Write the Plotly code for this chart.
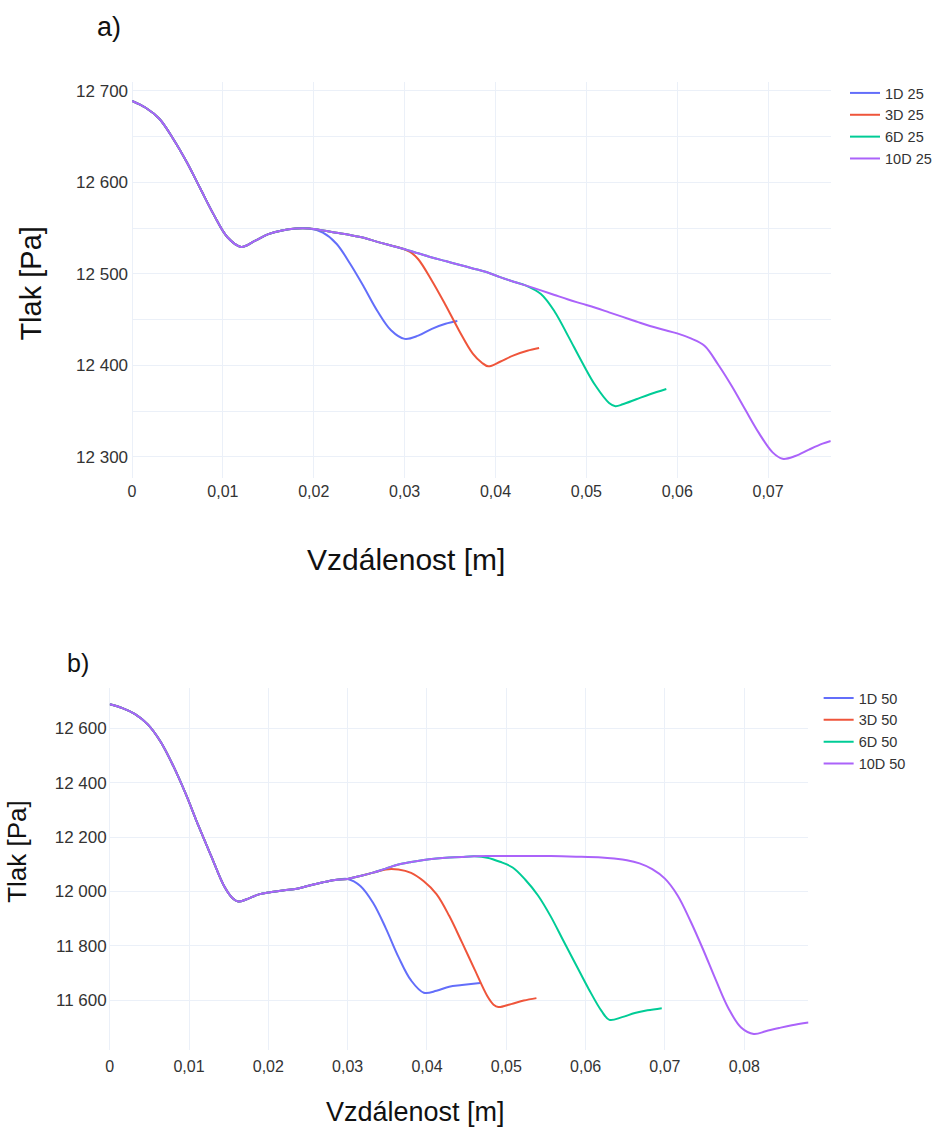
import plotly.graph_objects as go

W, H = 937, 1130

# ---------------- panel a) : 25 series ----------------
# inlet part shared by all four profiles
a_start_x = [0.0, 0.0015, 0.0030, 0.0045, 0.0060, 0.0075, 0.0090, 0.0105, 0.0120,
             0.0135, 0.0150, 0.0165, 0.0180, 0.0195]
a_start_p = [12689, 12681.5, 12669.5, 12648, 12622.5, 12593.5, 12564.5, 12540, 12529.5,
             12536, 12543.5, 12547.5, 12549.5, 12549.5]

a_1d_x = [0.0210, 0.0225, 0.0240, 0.0255, 0.0270, 0.0285, 0.0300, 0.0315, 0.0330,
          0.0345, 0.0358]
a_1d_p = [12545, 12533, 12511, 12486, 12459.5, 12438.5, 12429, 12432.5, 12440,
          12445.5, 12448.5]

# main line that the longer profiles keep following
a_mid_x = [0.0210, 0.0225, 0.0240, 0.0255, 0.0270, 0.0285, 0.0298]
a_mid_p = [12547.5, 12545, 12542.5, 12539.5, 12535, 12531, 12527.5]

a_3d_x = [0.0306, 0.0315, 0.0330, 0.0345, 0.0360, 0.0375, 0.0385, 0.0392, 0.0405,
          0.0420, 0.0435, 0.0448]
a_3d_p = [12524, 12516, 12492.5, 12466, 12438, 12413, 12403, 12399, 12404,
          12411, 12416, 12419]

a_long_x = [0.0315, 0.0330, 0.0345, 0.0360, 0.0375, 0.0390, 0.0405, 0.0420, 0.0433]
a_long_p = [12522.5, 12518, 12514, 12510, 12506, 12502, 12496.5, 12491.5, 12487.5]

a_6d_x = [0.0450, 0.0465, 0.0480, 0.0495, 0.0510, 0.0525, 0.0532, 0.0540, 0.0555,
          0.0570, 0.0588]
a_6d_p = [12478, 12459, 12432, 12404, 12378, 12359, 12355.5, 12357.5, 12363,
          12368.5, 12374.3]

a_10d_x = [0.0450, 0.0465, 0.0480, 0.0495, 0.0510, 0.0525, 0.0540, 0.0555, 0.0570,
           0.0585, 0.0600, 0.0615, 0.0630, 0.0645, 0.0660, 0.0675, 0.0690, 0.0705,
           0.0716, 0.0730, 0.0745, 0.0760, 0.0769]
a_10d_p = [12482, 12477, 12472, 12467.5, 12463, 12458, 12453, 12448, 12443,
           12439, 12435, 12429.5, 12421.5, 12401, 12377.5, 12351.5, 12326, 12305,
           12298, 12301, 12308, 12314.5, 12317.5]

# ---------------- panel b) : 50 series ----------------
b_start_x = [0.0, 0.0016, 0.0032, 0.0048, 0.0064, 0.0080, 0.0096, 0.0112, 0.0128,
             0.0144, 0.0155, 0.0162, 0.0172, 0.0188, 0.0204, 0.0220, 0.0236, 0.0252,
             0.0268, 0.0284, 0.0300]
b_start_p = [12689, 12675, 12653, 12615, 12552, 12463, 12358, 12241, 12130,
             12021, 11975, 11963, 11970, 11989, 11997.5, 12004, 12010, 12022,
             12033, 12042, 12046]

b_1d_x = [0.0316, 0.0332, 0.0348, 0.0364, 0.0380, 0.0396, 0.0412, 0.0428, 0.0444,
          0.0467]
b_1d_p = [12020, 11958, 11865, 11759, 11672, 11627, 11634, 11649, 11655,
          11663]

b_mid_x = [0.0316, 0.0332]
b_mid_p = [12057, 12069]

b_3d_x = [0.0348, 0.0364, 0.0380, 0.0396, 0.0412, 0.0428, 0.0444, 0.0460, 0.0476,
          0.0484, 0.0490, 0.0506, 0.0522, 0.0538]
b_3d_p = [12081, 12080.5, 12068, 12037, 11990, 11910, 11813, 11713, 11615,
          11583, 11574, 11585, 11598, 11607]

b_long_x = [0.0348, 0.0364, 0.0380, 0.0396, 0.0412, 0.0428, 0.0444, 0.0460]
b_long_p = [12084, 12099, 12108.5, 12116, 12121, 12124.5, 12127, 12129]

b_6d_x = [0.0476, 0.0492, 0.0508, 0.0524, 0.0540, 0.0556, 0.0572, 0.0588, 0.0604,
          0.0620, 0.0630, 0.0646, 0.0662, 0.0678, 0.0696]
b_6d_p = [12124, 12109, 12088, 12043, 11985, 11908, 11818, 11729, 11640,
          11560, 11527, 11537, 11552, 11562, 11570]

b_10d_x = [0.0476, 0.0492, 0.0524, 0.0556, 0.0588, 0.0620, 0.0636, 0.0652, 0.0668,
           0.0684, 0.0700, 0.0716, 0.0732, 0.0748, 0.0764, 0.0780, 0.0796, 0.0812,
           0.0828, 0.0844, 0.0860, 0.0881]
b_10d_p = [12130, 12130.5, 12130, 12130, 12128, 12125, 12121, 12115, 12103,
           12082, 12047, 11985, 11892, 11787, 11675, 11570, 11499, 11475,
           11486, 11497, 11507, 11517]

labels_a = ["1D 25", "3D 25", "6D 25", "10D 25"]
labels_b = ["1D 50", "3D 50", "6D 50", "10D 50"]
colors = ["#636efa", "#EF553B", "#00cc96", "#ab63fa"]

series_a = [
    (a_start_x + a_1d_x, a_start_p + a_1d_p),
    (a_start_x + a_mid_x + a_3d_x, a_start_p + a_mid_p + a_3d_p),
    (a_start_x + a_mid_x + a_long_x + a_6d_x, a_start_p + a_mid_p + a_long_p + a_6d_p),
    (a_start_x + a_mid_x + a_long_x + a_10d_x, a_start_p + a_mid_p + a_long_p + a_10d_p),
]
series_b = [
    (b_start_x + b_1d_x, b_start_p + b_1d_p),
    (b_start_x + b_mid_x + b_3d_x, b_start_p + b_mid_p + b_3d_p),
    (b_start_x + b_mid_x + b_long_x + b_6d_x, b_start_p + b_mid_p + b_long_p + b_6d_p),
    (b_start_x + b_mid_x + b_long_x + b_10d_x, b_start_p + b_mid_p + b_long_p + b_10d_p),
]

fig = go.Figure()
for (xs, ps), name, col in zip(series_a, labels_a, colors):
    fig.add_trace(go.Scatter(x=xs, y=ps, name=name, mode="lines",
                             line=dict(color=col, width=2, shape="spline", smoothing=1),
                             xaxis="x", yaxis="y", legend="legend"))
for (xs, ps), name, col in zip(series_b, labels_b, colors):
    fig.add_trace(go.Scatter(x=xs, y=ps, name=name, mode="lines",
                             line=dict(color=col, width=2, shape="spline", smoothing=1),
                             xaxis="x2", yaxis="y2", legend="legend2"))


def px_x(v):
    return v / W


def px_y(v):
    return 1 - v / H


GRID = "#EBF0F8"
FONT = "Liberation Sans, Arial, sans-serif"
TICKFONT_Y = dict(family=FONT, size=17, color="#333333")
TICKFONT_X = dict(family=FONT, size=16, color="#333333")

axis_common = dict(showline=False, ticks="", zeroline=True, zerolinecolor=GRID,
                   zerolinewidth=1, gridcolor=GRID, gridwidth=1)

fig.update_layout(
    width=W, height=H, autosize=False,
    template="plotly_white",
    paper_bgcolor="white", plot_bgcolor="white",
    margin=dict(l=0, r=0, t=0, b=0),
    separators=", ",
    showlegend=True,
    xaxis=dict(domain=[px_x(130), px_x(839.3)], range=[0, 0.0769], dtick=0.01, tick0=0,
               anchor="y", tickfont=TICKFONT_X, ticklabelstandoff=2, **axis_common),
    yaxis=dict(domain=[px_y(478), px_y(81.7)], range=[12277, 12710], dtick=100, tick0=0,
               anchor="x", tickfont=TICKFONT_Y, tickformat=",d", ticklabelstandoff=3,
               minor=dict(dtick=50, tick0=0, showgrid=True, gridcolor=GRID, gridwidth=1),
               **axis_common),
    xaxis2=dict(domain=[px_x(107.3), px_x(816.7)], range=[0, 0.0881], dtick=0.01, tick0=0,
                anchor="y2", tickfont=TICKFONT_X, ticklabelstandoff=5, **axis_common),
    yaxis2=dict(domain=[px_y(1050), px_y(687.7)], range=[11416, 12750], dtick=200, tick0=0,
                anchor="x2", tickfont=TICKFONT_Y, tickformat=",d", ticklabelstandoff=2,
                **axis_common),
    legend=dict(x=px_x(854), y=px_y(77), xanchor="left", yanchor="top",
                bgcolor="rgba(0,0,0,0)", font=dict(family=FONT, size=14.5, color="#333333")),
    legend2=dict(x=px_x(827), y=px_y(682), xanchor="left", yanchor="top",
                 bgcolor="rgba(0,0,0,0)", font=dict(family=FONT, size=14.5, color="#333333")),
)

annotations = [
    dict(text="a)", x=px_x(107), y=px_y(27), size=27),
    dict(text="b)", x=px_x(75), y=px_y(663), size=25),
    dict(text="Vzdálenost [m]", x=px_x(408.5), y=px_y(559), size=30),
    dict(text="Vzdálenost [m]", x=px_x(417.5), y=px_y(1112), size=27),
    dict(text="Tlak [Pa]", x=px_x(27), y=px_y(284), size=29, angle=-90),
    dict(text="Tlak [Pa]", x=px_x(13), y=px_y(851), size=26, angle=-90),
]
for a in annotations:
    fig.add_annotation(text=a["text"], x=a["x"], y=a["y"], xref="paper", yref="paper",
                       xanchor="center", yanchor="middle", showarrow=False,
                       textangle=a.get("angle", 0),
                       font=dict(family=FONT, size=a["size"], color="#111111"))

fig.write_html("out.html")
